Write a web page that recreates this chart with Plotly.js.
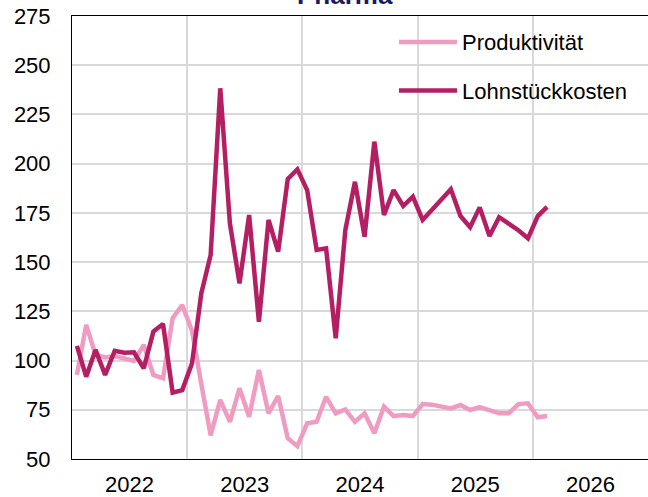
<!DOCTYPE html>
<html>
<head>
<meta charset="utf-8">
<script src="https://cdn.plot.ly/plotly-3.0.1.min.js"></script>
<style>html,body{margin:0;padding:0;background:#fff;}#chart{width:648px;height:497px;}</style>
</head>
<body>
<div id="chart"></div>
<script>
const months = [
 '2022-01','2022-02','2022-03','2022-04','2022-05','2022-06','2022-07','2022-08','2022-09','2022-10','2022-11','2022-12',
 '2023-01','2023-02','2023-03','2023-04','2023-05','2023-06','2023-07','2023-08','2023-09','2023-10','2023-11','2023-12',
 '2024-01','2024-02','2024-03','2024-04','2024-05','2024-06','2024-07','2024-08','2024-09','2024-10','2024-11','2024-12',
 '2025-01','2025-02','2025-03','2025-04','2025-05','2025-06','2025-07','2025-08','2025-09','2025-10','2025-11','2025-12',
 '2026-01','2026-02'
];
const produktivitaet = [
 92.7,118.1,103.0,101.6,102.3,100.8,99.8,107.9,92.7,91.0,121.5,128.2,
 115.0,88.0,62.0,80.0,68.9,85.9,71.5,95.2,73.2,82.0,60.5,56.5,
 68.1,68.9,81.6,73.2,75.2,68.9,73.2,63.1,76.6,71.8,72.3,71.8,
 77.9,77.6,76.6,75.7,77.4,74.9,76.3,74.9,73.2,73.2,77.9,78.3,
 71.2,71.8
];
const lohnstueckkosten = [
 107.5,91.8,105.4,92.7,105.0,104.0,104.2,96.1,114.7,118.6,83.7,85.0,
 98.6,134.2,153.6,238.3,169.7,139.2,173.9,119.7,171.4,155.3,192.2,197.1,
 186.6,156.2,157.0,111.3,166.3,190.8,162.9,211.2,173.9,186.6,178.5,183.2,
 171.4,176.3,181.4,187.0,173.4,167.7,177.8,163.3,172.8,169.7,166.2,162.1,
 173.4,178.1
];
const seriesNames = ['Produktivität','Lohnstückkosten'];
const yTicks = [50,75,100,125,150,175,200,225,250,275];
const chartTitle = 'Pharma';

const font = 'Liberation Sans, Arial, sans-serif';
const traces = [
 {x: months, y: produktivitaet, name: seriesNames[0], type: 'scatter', mode: 'lines',
  xperiod: 'M1', xperiodalignment: 'middle', legendgroup: 'a',
  line: {color: '#EF9BC2', width: 4.5, shape: 'linear'}},
 {x: months, y: lohnstueckkosten, name: seriesNames[1], type: 'scatter', mode: 'lines',
  xperiod: 'M1', xperiodalignment: 'middle', legendgroup: 'b',
  line: {color: '#B41F64', width: 4.5, shape: 'linear'}}
];
const layout = {
 width: 648, height: 497,
 margin: {l: 72, r: 0, t: 16, b: 38, autoexpand: false},
 paper_bgcolor: '#ffffff', plot_bgcolor: '#ffffff',
 font: {family: font, size: 22, color: '#000'},
 annotations: [{text: '<b>' + chartTitle + '</b>', xref: 'paper', yref: 'paper', x: 0.474, y: 1,
   xanchor: 'center', yanchor: 'bottom', yshift: 4, showarrow: false,
   font: {family: font, size: 26, color: '#1B1A5C'}}],
 showlegend: true,
 legend: {x: 0.559, xanchor: 'left', y: 0.9885, yanchor: 'top', bgcolor: 'rgba(0,0,0,0)',
   itemwidth: 58,
   font: {family: font, size: 22, color: '#000'}, tracegroupgap: 17, traceorder: 'grouped'},
 xaxis: {type: 'date', range: ['2022-01-01', '2027-01-01'], dtick: 'M12', tick0: '2022-01-01',
   ticklabelmode: 'period', tickformat: '%Y', showgrid: true, gridcolor: '#D9D9D9', gridwidth: 2,
   showline: true, linecolor: '#000', linewidth: 1, mirror: true, ticks: '', ticklabelstandoff: 6,
   zeroline: false, tickfont: {family: font, size: 22, color: '#000'}},
 yaxis: {range: [50, 275], tickvals: yTicks, showgrid: true, gridcolor: '#D9D9D9', gridwidth: 2,
   showline: true, linecolor: '#000', linewidth: 1, mirror: true, ticks: '', ticklabelstandoff: 16,
   zeroline: false, tickfont: {family: font, size: 22, color: '#000'}}
};
Plotly.newPlot('chart', traces, layout, {displayModeBar: false, staticPlot: true});
</script>
</body>
</html>
